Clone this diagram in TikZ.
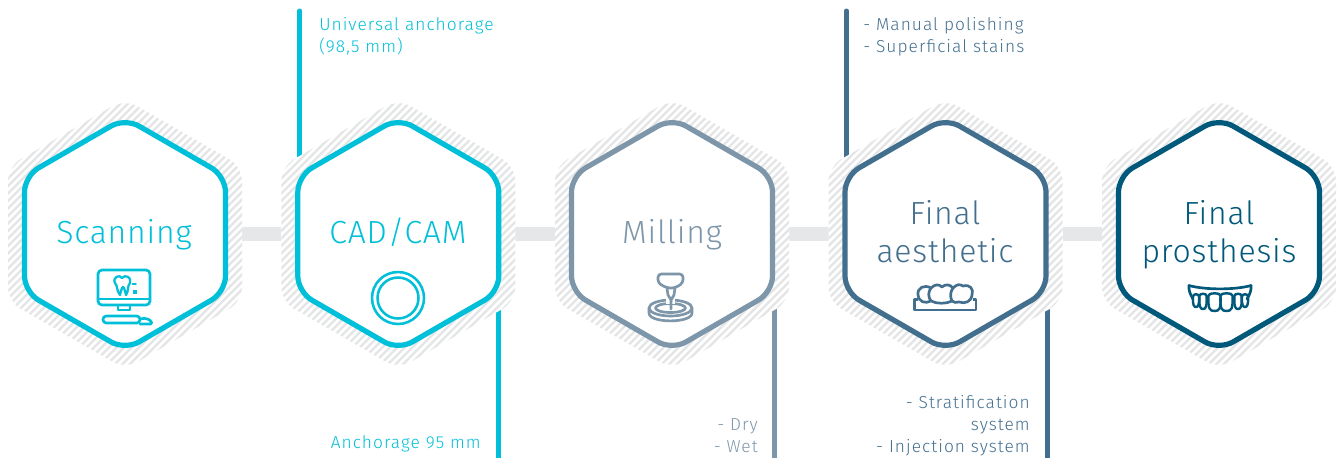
\documentclass[tikz,border=0pt]{standalone}
\usepackage{fontspec}
\newfontfamily\bigf[LetterSpace=2.5]{Fira Sans Light}
\newfontfamily\smallf[LetterSpace=6]{Fira Sans Light}
\definecolor{cA}{HTML}{00BFD8}
\definecolor{cC}{HTML}{7E96A9}
\definecolor{cD}{HTML}{436F8E}
\definecolor{cE}{HTML}{00587A}
\definecolor{hatchc}{HTML}{E4E5E6}
\definecolor{barc}{HTML}{E6E7E8}
\newcommand{\hexpath}[3]{(#1,234-#2) -- (#1+#3,234-#2/2) -- (#1+#3,234+#2/2) -- (#1,234+#2) -- (#1-#3,234+#2/2) -- (#1-#3,234-#2/2) -- cycle}
\tikzset{
  hexbox/.style={minimum width=175.5pt,minimum height=196.5pt,inner sep=0pt,outer sep=0pt},
  bar/.style={draw=barc,line width=10.5pt},
  vline/.style={line width=3.75pt,line cap=round},
  title/.style={anchor=base,inner sep=0pt,align=center,font=\bigf\fontsize{24}{28.5}\selectfont},
  note/.style={inner sep=0pt,font=\smallf\fontsize{13}{16.5}\selectfont},
  icon/.style={line width=2pt,line join=round,line cap=round},
}
\begin{document}
\begin{tikzpicture}[x=0.75pt,y=-0.75pt]
\useasboundingbox (0,0) rectangle (1338,457);
\node[hexbox] (h1) at (125,234) {};
\node[hexbox] (h2) at (398.3,234) {};
\node[hexbox] (h3) at (672,234) {};
\node[hexbox] (h4) at (945.5,234) {};
\node[hexbox] (h5) at (1219,234) {};
% connectors
\draw[bar] (h1.east) -- (h2.west);
\draw[bar] (h2.east) -- (h3.west);
\draw[bar] (h3.east) -- (h4.west);
\draw[bar] (h4.east) -- (h5.west);
\coordinate (t2) at (299.7,11);
\coordinate (b2) at (498.5,464);
\coordinate (b3) at (774,464);
\coordinate (t4) at (846.5,11);
\coordinate (b4) at (1047,464);
\draw[vline,draw=cA] (t2) -- (t2 |- h2.center);
\draw[vline,draw=cA] (b2) -- (b2 |- h2.center);
\draw[vline,draw=cC] (b3) -- (b3 |- h3.center);
\draw[vline,draw=cD] (t4) -- (t4 |- h4.center);
\draw[vline,draw=cD] (b4) -- (b4 |- h4.center);
% hexagons
\foreach \cx/\col in {125/cA,398.3/cA,672/cC,945.5/cD,1219/cE}{
  \fill[white,rounded corners=11pt] \hexpath{\cx}{135}{117};
  \begin{scope}
    \clip[rounded corners=11pt] \hexpath{\cx}{135}{117};
    \foreach \k in {-36,...,36}{
      \draw[hatchc,line width=1.7pt] (\cx+\k*7.5+140,94) -- (\cx+\k*7.5-140,374);
    }
  \end{scope}
  \fill[white,rounded corners=12pt] \hexpath{\cx}{116}{100.5};
  \draw[\col,line width=3.9pt,rounded corners=12pt] \hexpath{\cx}{116}{100.5};
}
% titles
\node[title,text=cA] (l1) at (124,243) {Scanning};
\node[title,text=cA] (l2) at (398,243) {CAD/CAM};
\node[title,text=cC] (l3) at (672,243) {Milling};
\node[title,text=cD] (l4) at (945,262) {Final\\aesthetic};
\node[title,text=cE] (l5) at (1219,262) {Final\\prosthesis};
% notes
\node[note,text=cA,anchor=base west] (n1) at (319,30) {Universal anchorage};
\node[note,text=cA,anchor=base west] (n1b) at (319,52) {(98,5 mm)};
\node[note,text=cA,anchor=base east] (n2) at (481,448) {Anchorage 95 mm};
\node[note,text=cC,anchor=base east] (n3) at (758,430) {- Dry};
\node[note,text=cC,anchor=base east] (n3b) at (758,452) {- Wet};
\node[note,text=cD,anchor=base west] (n4) at (863,30) {- Manual polishing};
\node[note,text=cD,anchor=base west] (n4b) at (863,52) {- Superficial stains};
\node[note,text=cD,anchor=base east] (n5) at (1030,408) {- Stratification};
\node[note,text=cD,anchor=base east] (n5b) at (1030,430) {system};
\node[note,text=cD,anchor=base east] (n5c) at (1030,452) {- Injection system};
% scanning icon
\begin{scope}[icon,draw=cA]
  \draw[rounded corners=3pt] (98,270) rectangle (150,305);
  \draw (98,299) -- (150,299);
  \draw (118,305) -- (118,310) -- (130,310) -- (130,305);
  \draw[rounded corners=2.5pt] (103,316) rectangle (140,323);
  \draw[rounded corners=1pt] (140,319) .. controls (146,317) and (151,320) .. (152,324) -- (140,324);
  \draw[line width=1.7pt] (120,295) .. controls (116,290) and (118,286) .. (115,283) .. controls (112,277) and (120,274) .. (122,278) .. controls (125,274) and (132,277) .. (130,283) .. controls (127,286) and (129,291) .. (126,295) .. controls (125,291) and (124,287) .. (123,287) .. controls (122,287) and (121,291) .. (120,295) -- cycle;
  \draw[line width=1.4pt] (132.5,284) -- (136,284);
  \fill[cA] (132.5,290) rectangle (136.5,294);
\end{scope}
% disc icon
\draw[cA,line width=1.9pt] (398,298) circle[radius=26];
\draw[cA,line width=1.9pt] (398,298) circle[radius=20.5];
% milling icon
\begin{scope}[icon,draw=cC]
  \draw (670.5,308) ellipse[x radius=21.5,y radius=8];
  \draw (670.5,308) ellipse[x radius=15,y radius=4.5];
  \draw (649,308) -- (649,313) .. controls (649,323.5) and (692,323.5) .. (692,313) -- (692,308);
  \fill[white] (666,296) rectangle (675,304);
  \draw[fill=white,rounded corners=2.5pt] (658,274) -- (683,274) -- (683,283) -- (675,288) -- (667,288) -- (658,283) -- cycle;
  \draw (667,288) -- (668,295) -- (671,300) -- (671,309);
  \draw (675,288) -- (674,295) -- (671,300);
\end{scope}
% aesthetic icon
\begin{scope}[icon,draw=cD]
  \draw (914.5,299.5) rectangle (976,310);
  \fill[white] (918,297) rectangle (973,302);
  \draw (931,301) .. controls (925,304) and (919,302) .. (918,295) .. controls (917,288) and (924,284) .. (931,288)
     .. controls (935,284) and (939,284) .. (942,287) .. controls (945,284) and (950,284) .. (953,288) .. controls (957,284) and (960,284) .. (963,286) .. controls (970,284) and (974,289) .. (972,295) .. controls (971,302) and (965,304) .. (959,302) .. controls (956,303.5) and (954,302) .. (952,301) .. controls (946,304) and (937,304) .. (931,301);
  \draw (931,288) .. controls (928,292) and (928,297) .. (931,301);
  \draw (953,288) .. controls (950,292) and (950,297) .. (952,301);
\end{scope}
% prosthesis icon
\begin{scope}[icon,draw=cE]
  \draw (1189,285.5) .. controls (1205,290) and (1235,290) .. (1251,285.5);
  \draw (1189,285.5) .. controls (1188.5,290) and (1190,294) .. (1193,299);
  \draw (1251,285.5) .. controls (1251.5,290) and (1250,294) .. (1247,299);
  \foreach \tx/\hw/\top/\bot in {1196/3/294.5/307,1203/3.6/294/309,1214.5/6/293.5/311,1226.5/6/293.5/311,1238/3.6/294/309,1245/3/294.5/307}{
    \draw[line width=1.8pt] (\tx-\hw,\top+2) .. controls (\tx-\hw-0.5,\bot-2) and (\tx-\hw+1,\bot) .. (\tx,\bot) .. controls (\tx+\hw-1,\bot) and (\tx+\hw+0.5,\bot-2) .. (\tx+\hw,\top+2) .. controls (\tx+\hw,\top-1) and (\tx-\hw,\top-1) .. (\tx-\hw,\top+2) -- cycle;
  }
\end{scope}
\end{tikzpicture}
\end{document}
